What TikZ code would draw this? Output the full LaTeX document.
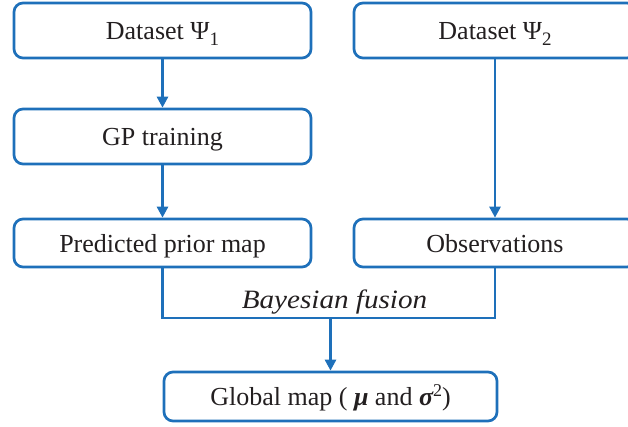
\documentclass[tikz,border=0pt]{standalone}
\usepackage{fontspec}
\setmainfont{Liberation Serif}
\usetikzlibrary{arrows.meta}
\definecolor{flowblue}{RGB}{30,112,186}
\definecolor{inkgray}{RGB}{35,31,32}
\newcommand{\lowsub}[1]{\raisebox{-0.5ex}{\fontsize{19}{20}\selectfont #1}}
\newcommand{\highsup}[1]{\raisebox{0.75ex}{\fontsize{18}{18}\selectfont #1}}
\begin{document}
\begin{tikzpicture}[x=1pt,y=-1pt,
  box/.style={draw=flowblue, line width=2.7pt, rounded corners=9pt, fill=white,
    align=center, inner sep=0pt, text=inkgray, text height=18.5pt, text depth=0pt,
    font=\fontsize{26}{30}\selectfont},
  conn/.style={draw=flowblue, line width=2.7pt},
  arr/.style={conn, -{Triangle[length=11pt,width=11pt]}}
]
\useasboundingbox (0,0) rectangle (628,427);
\clip (0,0) rectangle (628,427);

% left column
\node[box, minimum width=297pt, minimum height=55pt] (d1) at (162.5,30.5) {Dataset Ψ\lowsub{1}};
\node[box, minimum width=297pt, minimum height=55pt] (gp) at (162.5,136.5) {GP training};
\node[box, minimum width=297pt, minimum height=48pt] (prior) at (162.5,243) {Predicted prior map};

% right column
\node[box, minimum width=282pt, minimum height=55pt] (d2) at (495,30.5) {Dataset Ψ\lowsub{2}};
\node[box, minimum width=282pt, minimum height=48pt] (obs) at (495,243) {Observations};

% result
\node[box, minimum width=333pt, minimum height=49pt, text height=17pt] (glob) at (330.5,396.5)
  {Global map ( {\bfseries\itshape μ} and {\bfseries\itshape σ}\highsup{2})};

% connectors
\draw[arr] (d1) -- (gp);
\draw[arr] (gp) -- (prior);
\draw[arr] (d2) -- (obs);

\coordinate (fl) at (162.5,318);
\coordinate (fr) at (495,318);
\coordinate (fm) at (330.5,318);
\draw[conn, line join=miter] (prior.south) -- (fl) -- (fr) -- (obs.south);
\node[text=inkgray, font=\fontsize{26.5}{30}\selectfont\itshape, inner sep=0pt] (bf) at (334.5,302)
  {\scalebox{1.1}[1]{Bayesian fusion}};
\draw[arr] (fm) -- (glob.north);
\end{tikzpicture}
\end{document}
